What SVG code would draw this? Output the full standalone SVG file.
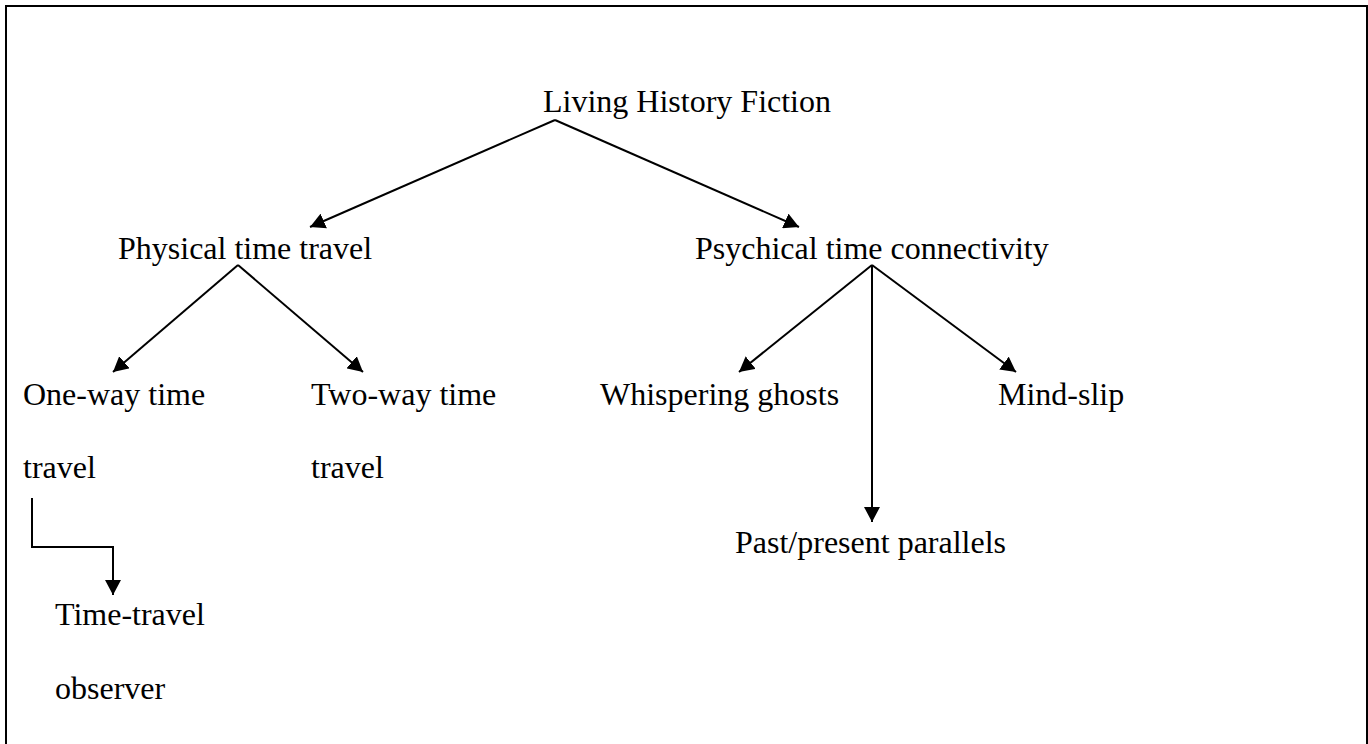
<svg xmlns="http://www.w3.org/2000/svg" width="1368" height="744" viewBox="0 0 1368 744">
<style>
text{font-family:"Liberation Serif","Times New Roman",serif;font-size:32px;fill:#000}
.c{fill:none;stroke:#000;stroke-width:2}
</style>
<defs>
<marker id="ah" markerUnits="userSpaceOnUse" markerWidth="16" markerHeight="16" refX="15" refY="8" orient="auto">
<path d="M0,0 L15,8 L0,16 z" fill="#000"/>
</marker>
</defs>
<rect x="6" y="6" width="1361" height="760" fill="#fff" stroke="#000" stroke-width="2"/>
<g id="connectors">
<path class="c" d="M555,120 L310,227" marker-end="url(#ah)"/>
<path class="c" d="M555,120 L799,227" marker-end="url(#ah)"/>
<path class="c" d="M238,265 L113,372" marker-end="url(#ah)"/>
<path class="c" d="M238,265 L363,372" marker-end="url(#ah)"/>
<path class="c" d="M872,265 L739,372" marker-end="url(#ah)"/>
<path class="c" d="M872,265 L1016,372" marker-end="url(#ah)"/>
<path class="c" d="M872,265 L872,522" marker-end="url(#ah)"/>
<path class="c" d="M32,498 L32,547 L113,547 L113,595" marker-end="url(#ah)"/>
</g>
<g id="n-living"><text x="543" y="112">Living History Fiction</text></g>
<g id="n-physical"><text x="118" y="259">Physical time travel</text></g>
<g id="n-psychical"><text x="695" y="259">Psychical time connectivity</text></g>
<g id="n-oneway"><text x="23" y="405">One-way time</text><text x="23" y="478">travel</text></g>
<g id="n-twoway"><text x="311" y="405">Two-way time</text><text x="311" y="478">travel</text></g>
<g id="n-whisper"><text x="600" y="405">Whispering ghosts</text></g>
<g id="n-mindslip"><text x="998" y="405">Mind-slip</text></g>
<g id="n-past"><text x="735" y="553">Past/present parallels</text></g>
<g id="n-observer"><text x="55" y="625">Time-travel</text><text x="55" y="699">observer</text></g>
</svg>
